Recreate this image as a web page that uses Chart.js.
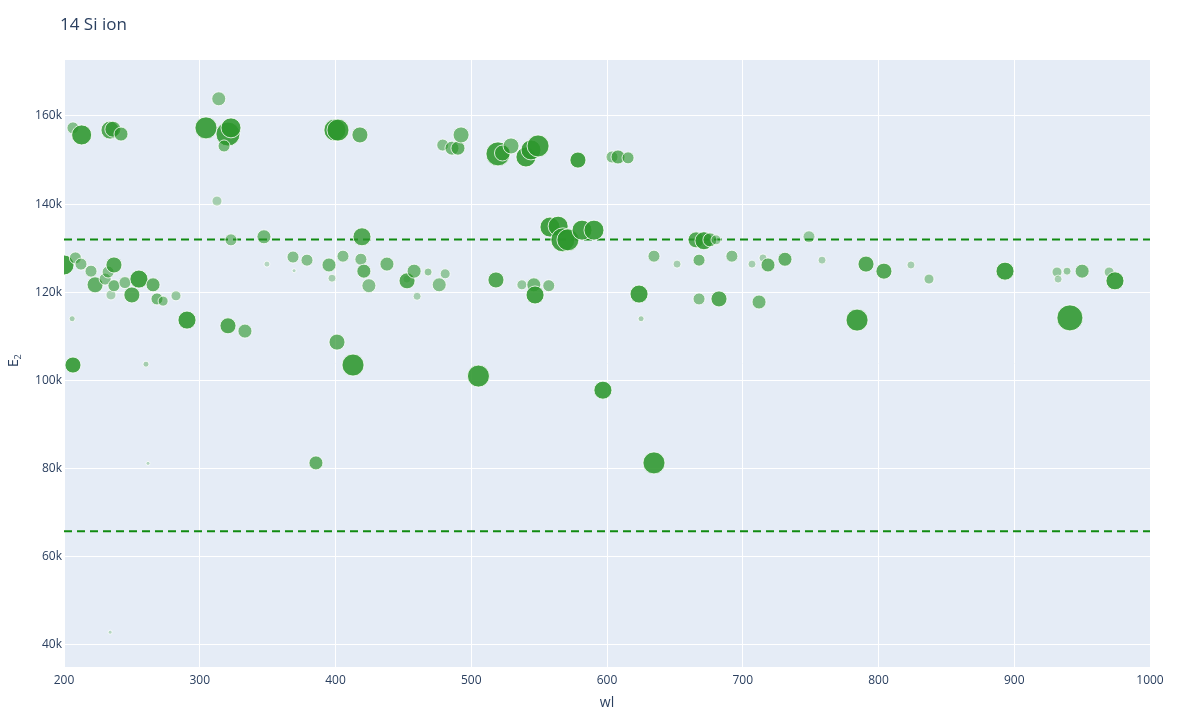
<!DOCTYPE html>
<html><head><meta charset="utf-8">
<script src="https://cdn.jsdelivr.net/npm/chart.js@4/dist/chart.umd.min.js"></script>
<style>html,body{margin:0;padding:0;background:#fff}#w{width:1200px;height:720px}</style>
</head><body><div id="w"><canvas id="c"></canvas></div>
<script>
const wl=[
206.6,213,233.9,236,242,304.6,320.8,317.9,323,314,
312.7,399.6,401.8,418,479,485.8,490.2,492.5,519.7,523,
529.3,540.3,544,549.2,578.6,603.7,608.1,615.5,200,206.6,
206,208.4,212.5,219.9,222.9,230.3,232.5,234.6,236.8,236.8,
244.9,250,255.2,260.4,265.6,268.5,273,282.5,290.6,320.8,
323,333.3,347.3,349.5,368.7,369.5,379,385.6,395.2,397.4,
401.1,405.5,412.9,419.5,418.7,420.9,424.6,437.9,452.6,452.7,
457.9,460.1,468.2,476.4,480.8,505.3,518.2,537.3,546.1,547,
557.1,558,564,567.5,571.2,581.6,590.4,597,623.6,625.1,
634.6,634.6,651.6,665.6,671.4,675.8,680.3,667.8,667.8,682.5,
692,706.8,712,714.9,718.6,731.1,748.8,758.4,784.2,790.8,
804,823.9,837.2,893.2,931.5,932.3,938.9,941,950,969.9,
974.2,234,261.9];
const e2=[
157.3,155.7,156.8,157,155.9,157.3,155.9,153.2,157.3,163.9,
140.7,156.8,156.8,155.7,153.4,152.7,152.7,155.7,151.4,151.6,
153.2,150.7,152.3,153.2,150,150.7,150.7,150.5,126.2,103.5,
114,127.8,126.4,124.8,121.7,123,124.6,119.4,126.2,121.5,
122.2,119.4,123,103.7,121.7,118.5,118,119.2,113.7,112.4,
131.9,111.2,132.6,126.4,128,124.9,127.3,81.3,126.2,123.2,
108.7,128.2,103.5,132.6,127.5,124.8,121.5,126.4,123,122.6,
124.8,119.1,124.6,121.7,124.2,101,122.8,121.7,121.7,119.4,
121.5,134.8,135,131.9,131.9,134.1,134.1,97.8,119.6,114,
81.3,128.2,126.4,131.9,131.7,131.9,131.9,127.3,118.5,118.5,
128.2,126.4,117.8,127.8,126.2,127.5,132.6,127.3,113.7,126.4,
124.8,126.2,123,124.8,124.6,123,124.8,114.2,124.8,124.6,
122.6,42.9,81.2];
const sz=[
6,10,9,8,7,11,12,6,10,7,
5,11,11,8,6,7,7,8,12,8,
8,10,10,11,8,6,7,6,10,8,
3,6,6,6,8,6,6,5,8,6,
6,8,9,3,7,6,5,5,9,8,
6,7,7,3,6,2,6,7,7,4,
8,6,11,9,6,7,7,7,4,8,
7,4,4,7,5,11,8,5,7,9,
6,10,10,12,11,10,10,9,9,3,
11,6,4,8,9,7,5,6,6,8,
6,4,7,4,7,7,6,4,11,8,
8,4,5,9,5,4,4,13,7,5,
9,2,2];
const al=[
.6,1,.9,.8,.8,1,1,.7,1,.6,
.4,1,1,.8,.6,.7,.8,.7,1,.6,
.7,1,1,1,1,.6,.8,.7,1,1,
.4,.6,.6,.6,.8,.6,.6,.4,.9,.7,
.6,.9,1,.4,.8,.7,.6,.5,1,.9,
.6,.7,.7,.3,.6,.3,.6,.8,.7,.4,
.8,.6,1,.9,.6,.8,.6,.7,.4,.9,
.7,.4,.5,.6,.5,1,.9,.5,.7,1,
.6,1,1,1,1,1,1,1,1,.4,
1,.6,.4,.9,1,.7,.5,.7,.6,.9,
.6,.4,.7,.4,.8,.8,.5,.4,1,.9,
.9,.4,.5,1,.5,.4,.5,1,.7,.5,
1,.3,.3];
const hLines=[132,65.8];
const xTicks=[200,300,400,500,600,700,800,900,1000];
const yTicks=[40,60,80,100,120,140,160];
const pts=wl.map((x,i)=>({x:x,y:e2[i]*1000,r:sz[i]}));
const fills=al.map(a=>`rgba(44,150,44,${(a*0.88).toFixed(2)})`);
const bg={id:'bg',beforeDraw(c){const a=c.chartArea,x=c.ctx;x.save();x.fillStyle='#e5ecf6';x.fillRect(a.left,a.top,a.right-a.left,a.bottom-a.top);x.restore();},
afterDraw(c){const x=c.ctx;x.save();x.fillStyle='#2a3f5f';x.font='17px "Open Sans", sans-serif';x.textBaseline='alphabetic';x.fillText('14 Si ion',60,30);
x.font='14px "Open Sans", sans-serif';x.textAlign='center';x.fillText('wl',607,707);
x.translate(18,363);x.rotate(-Math.PI/2);x.fillText('E',0,0);x.font='9px "Open Sans", sans-serif';x.fillText('2',6,3);x.restore();}};
new Chart(document.getElementById('c'),{
data:{datasets:[
 ...hLines.map(v=>({type:'line',data:[{x:200,y:v*1000},{x:1000,y:v*1000}],borderColor:'#108a10',borderWidth:2,borderDash:[8,5],pointRadius:0,order:2})),
 {type:'bubble',data:pts,backgroundColor:fills,borderColor:'rgba(255,255,255,0.8)',borderWidth:1,order:1}
]},
options:{responsive:true,maintainAspectRatio:false,animation:false,
layout:{padding:{left:0,right:50,top:60,bottom:0}},
plugins:{legend:{display:false},tooltip:{enabled:false}},
scales:{
x:{type:'linear',min:200,max:1000,afterBuildTicks(s){s.ticks=xTicks.map(v=>({value:v}));},afterFit(s){s.height=53;},
 grid:{color:'#fff',lineWidth:1,drawTicks:false},border:{display:false},
 ticks:{color:'#2a3f5f',font:{size:12,family:'"Open Sans", sans-serif'},padding:6,maxRotation:0,callback:v=>String(v)}},
y:{type:'linear',min:35000,max:172700,afterBuildTicks(s){s.ticks=yTicks.map(v=>({value:v*1000}));},afterFit(s){s.width=64;},
 grid:{color:'#fff',lineWidth:1,drawTicks:false},border:{display:false},
 ticks:{color:'#2a3f5f',font:{size:12,family:'"Open Sans", sans-serif'},padding:2,callback:v=>(v/1000)+'k'}}
}},plugins:[bg]});
</script></body></html>
